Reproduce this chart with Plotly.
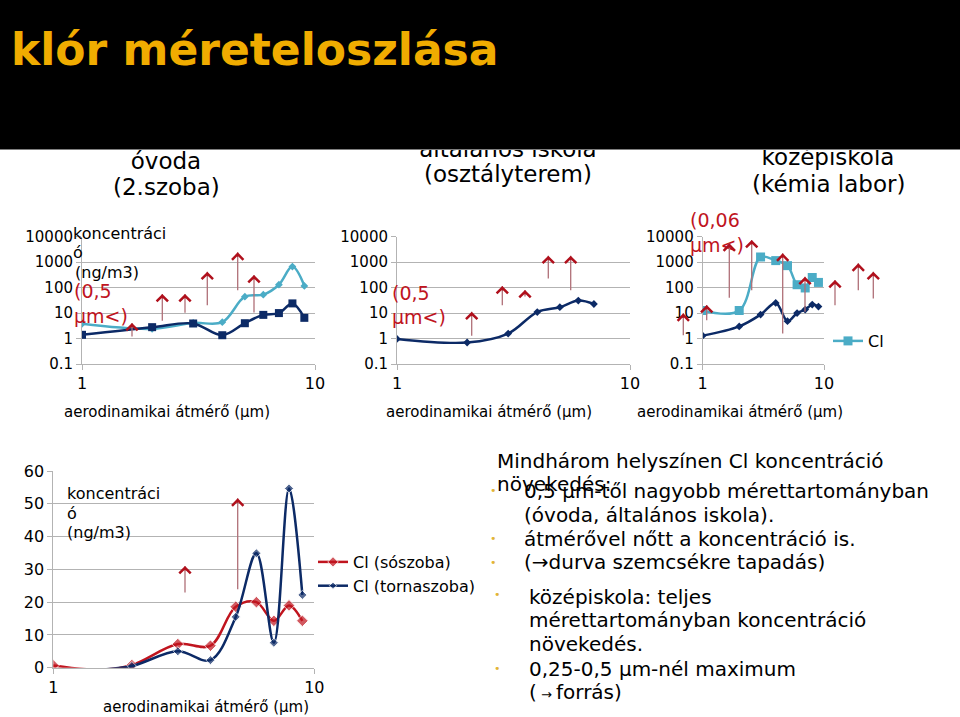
import plotly.graph_objects as go

W, H = 960, 717

# ---------------- data ----------------
size_um = [1, 2, 3, 4, 5, 6, 7, 8, 9]
ovoda_navy = [1.4, 2.8, 3.9, 1.35, 4.0, 8.5, 10, 24, 6.5]
ovoda_light = [3.8, 2.4, 4.1, 4.4, 44, 53, 130, 670, 117]

iskola_x = [1, 2, 3, 4, 5, 6, 7]
iskola_navy = [0.97, 0.7, 1.57, 11, 17, 31, 22.7]

kozep_light = [12.5, 12.5, 1600, 1150, 730, 130, 97, 250, 160]
kozep_navy = [1.3, 3.0, 8.7, 25, 4.8, 10, 13.7, 21.5, 18]

bottom_x = [1, 1.5, 2, 3, 4, 5, 6, 7, 8, 9]
soszoba = [0.7, -0.6, 0.8, 7.2, 6.7, 18.6, 20.0, 14.3, 19.0, 14.3]
tornaszoba = [None, -0.6, 0.5, 5.0, 2.3, 15.5, 34.9, 7.6, 54.7, 22.2]

log_ticks = [0.1, 1, 10, 100, 1000, 10000]
log_tick_text = ["0.1", "1", "10", "100", "1000", "10000"]
lin_ticks = [0, 10, 20, 30, 40, 50, 60]
x_ticks = [1, 10]
x_tick_text = ["1", "10"]

# ---------------- style ----------------
FONT = "DejaVu Sans"
NAVY = "#0C2A66"
LIGHT = "#4BACC6"
RED = "#C0141E"
GRID = "#B3B3B3"
ARROW_HEAD = "#B0101C"
ARROW_SHAFT = "#B07078"
GOLD = "#F0AC00"


def dx(a, b):
    return [a / W, b / W]


def dy(top, bottom):
    return [1 - bottom / H, 1 - top / H]


# hide the markers of the sub-zero point (it lies below the axis in the original)
bottom_marker_red = [9 if v is not None and v >= 0 else 0 for v in soszoba]
bottom_marker_navy = [7 if v is not None and v >= 0 else 0 for v in tornaszoba]

fig = go.Figure()

# chart 1: óvoda
fig.add_trace(go.Scatter(x=size_um, y=ovoda_light, mode="lines+markers", line=dict(color=LIGHT, width=2.5, shape="spline"),
                         marker=dict(symbol="diamond", size=6, color=LIGHT), xaxis="x", yaxis="y", showlegend=False))
fig.add_trace(go.Scatter(x=size_um, y=ovoda_navy, mode="lines+markers", line=dict(color=NAVY, width=2.5, shape="spline"),
                         marker=dict(symbol="square", size=8, color=NAVY), xaxis="x", yaxis="y", showlegend=False))
# chart 2: általános iskola
fig.add_trace(go.Scatter(x=iskola_x, y=iskola_navy, mode="lines+markers", line=dict(color=NAVY, width=2.5, shape="spline"),
                         marker=dict(symbol="diamond", size=6, color=NAVY), xaxis="x2", yaxis="y2", showlegend=False))
# chart 3: középiskola
fig.add_trace(go.Scatter(x=size_um, y=kozep_light, mode="lines+markers", line=dict(color=LIGHT, width=2.5, shape="spline"),
                         marker=dict(symbol="square", size=9, color=LIGHT), xaxis="x3", yaxis="y3", name="Cl",
                         legend="legend2", showlegend=True))
fig.add_trace(go.Scatter(x=size_um, y=kozep_navy, mode="lines+markers", line=dict(color=NAVY, width=2.5, shape="spline"),
                         marker=dict(symbol="diamond", size=6, color=NAVY), xaxis="x3", yaxis="y3", showlegend=False))
# chart 4: bottom
fig.add_trace(go.Scatter(x=bottom_x, y=soszoba, mode="lines+markers", line=dict(color=RED, width=2.5, shape="spline"),
                         marker=dict(symbol="diamond", size=bottom_marker_red, color=RED), xaxis="x4", yaxis="y4",
                         name="Cl (sószoba)", legend="legend", connectgaps=False))
fig.add_trace(go.Scatter(x=bottom_x, y=tornaszoba, mode="lines+markers", line=dict(color=NAVY, width=2.5, shape="spline"),
                         marker=dict(symbol="diamond", size=bottom_marker_navy, color=NAVY), xaxis="x4", yaxis="y4",
                         name="Cl (tornaszoba)", legend="legend", connectgaps=False))

xcommon = dict(type="log", range=[0, 1], tickvals=x_ticks, ticktext=x_tick_text, showgrid=False, showline=True,
               linecolor=GRID, ticks="outside", ticklen=5, tickcolor=GRID, tickfont=dict(size=16, color="black"),
               zeroline=False, fixedrange=True, automargin=False)
ylog = dict(type="log", range=[-1, 4], tickvals=log_ticks, ticktext=log_tick_text, showgrid=True, gridcolor=GRID,
            showline=True, linecolor=GRID, ticks="outside", ticklen=5, tickcolor=GRID,
            tickfont=dict(size=15, color="black"), zeroline=False, fixedrange=True, automargin=False)

top_dom = dy(236.7, 364)
fig.update_layout(
    xaxis=dict(domain=dx(82, 315), anchor="y", **xcommon),
    yaxis=dict(domain=top_dom, anchor="x", **ylog),
    xaxis2=dict(domain=dx(397, 630), anchor="y2", **xcommon),
    yaxis2=dict(domain=top_dom, anchor="x2", **ylog),
    xaxis3=dict(domain=dx(702.7, 824), anchor="y3", **xcommon),
    yaxis3=dict(domain=top_dom, anchor="x3", **ylog),
    xaxis4=dict(domain=dx(53.3, 314.3), anchor="y4", **xcommon),
    yaxis4=dict(domain=dy(471, 667.7), anchor="x4", range=[0, 60], tickvals=lin_ticks, showgrid=True,
                gridcolor=GRID, showline=True, linecolor=GRID, ticks="outside", ticklen=5, tickcolor=GRID,
                tickfont=dict(size=16, color="black"), zeroline=False, fixedrange=True, automargin=False),
)

ann = []
shapes = []


def text(t, x, y, size, color="black", xanchor="left"):
    ann.append(dict(text=t, x=x / W, y=1 - y / H, xref="paper", yref="paper", xanchor=xanchor, yanchor="middle",
                    showarrow=False, font=dict(family=FONT, size=size, color=color)))


def shape_text(t, cx, cy, size):
    # text drawn in the shape layer so that the header band can cover it
    shapes.append(dict(type="rect", xref="paper", yref="paper", x0=(cx - 120) / W, x1=(cx + 120) / W,
                       y0=1 - (cy + 15) / H, y1=1 - (cy - 15) / H, line=dict(width=0),
                       fillcolor="rgba(0,0,0,0)", layer="above",
                       label=dict(text=t, font=dict(family=FONT, size=size, color="black"),
                                  textposition="middle center")))


# chart titles (first lines partly hidden by the header band)
shape_text("óvoda", 166, 159, 23)
shape_text("általános iskola", 508, 147, 23)
shape_text("középiskola", 828, 155, 23)
text("(2.szoba)", 166, 187, 23, xanchor="center")
text("(osztályterem)", 508, 174, 23, xanchor="center")
text("(kémia labor)", 828, 184, 23, xanchor="center")

# header band
shapes.append(dict(type="rect", xref="paper", yref="paper", x0=-0.01, x1=1.01, y0=1 - 149.5 / H, y1=1.01,
                   fillcolor="black", line=dict(color="#7F7F7F", width=1), layer="above"))
text("<b>klór méreteloszlása</b>", 9, 50, 44, color=GOLD)

# axis titles
for cx, cy in [(167, 412), (489, 412), (740, 412), (206, 707)]:
    text("aerodinamikai átmérő (µm)", cx, cy, 15, xanchor="center")

# y labels inside charts
text("koncentráci", 71, 233, 16)
text("ó", 71, 253, 16)
text("(ng/m3)", 73, 272, 16)
text("koncentráci", 65, 493, 16)
text("ó", 65, 513, 16)
text("(ng/m3)", 65, 532, 16)

# red size labels
text("(0,5", 72, 291, 19, color=RED)
text("µm<)", 72, 316, 19, color=RED)
text("(0,5", 390, 293, 19, color=RED)
text("µm<)", 390, 317, 19, color=RED)
text("(0,06", 688, 220, 19, color=RED)
text("µm<)", 688, 245, 19, color=RED)

# right text block
block = [
    ("Mindhárom helyszínen Cl koncentráció", 495, 461),
    ("növekedés:", 495, 484),
    ("0,5 µm-től nagyobb mérettartományban", 522, 491),
    ("(óvoda, általános iskola).", 522, 515),
    ("átmérővel nőtt a koncentráció is.", 522, 539),
    ("(→durva szemcsékre tapadás)", 522, 562),
    ("középiskola: teljes", 527, 597),
    ("mérettartományban koncentráció", 527, 620),
    ("növekedés.", 527, 644),
    ("0,25-0,5 µm-nél maximum", 527, 669),
    ("(<span style='font-size:13px'> → </span>forrás)", 527, 692),
]
for t, x, y in block:
    text(t, x, y, 20)
for x, y in [(493, 490), (493, 538), (493, 562), (497, 594), (497, 668)]:
    text("•", x, y, 11, color="#E2B435", xanchor="center")

# hand-drawn upward arrows (slide decoration, pixel positions: x, tail y, tip y)
arrows = [
    (132, 338, 323), (162.3, 322.3, 294), (185, 314.3, 294), (207.3, 306.7, 271.7), (237.7, 291.7, 252.3),
    (254, 314, 275),
    (471.7, 337.3, 311.7), (502.3, 306.7, 286), (525, 298, 290), (548.3, 280, 255.7), (570.7, 291.7, 255.7),
    (683.3, 336.7, 313.3), (706.7, 321.7, 305), (729.3, 299.3, 243.3), (751.7, 291.7, 240), (782.7, 335, 253.3),
    (805, 313.3, 276.7), (835, 306.7, 280), (858.3, 291.7, 263.3), (873.3, 300, 271.7),
    (185, 594, 566), (237.7, 590.7, 498.3),
]
for x, y0, y1 in arrows:
    ann.append(dict(text="", x=x / W, y=1 - y1 / H, xref="paper", yref="paper", ax=0, ay=(y0 - y1),
                    showarrow=True, arrowhead=0, arrowwidth=1.3, arrowcolor=ARROW_SHAFT, font=dict(size=1)))
    ann.append(dict(text="", x=x / W, y=1 - y1 / H, xref="paper", yref="paper", ax=0, ay=6,
                    showarrow=True, arrowhead=4, arrowsize=2.2, arrowwidth=1, arrowcolor=ARROW_HEAD,
                    font=dict(size=1)))

fig.update_layout(
    width=W, height=H, margin=dict(l=0, r=0, t=0, b=0, autoexpand=False),
    paper_bgcolor="white", plot_bgcolor="rgba(0,0,0,0)",
    font=dict(family=FONT, color="black"),
    annotations=ann, shapes=shapes,
    legend=dict(x=313 / W, y=1 - 545 / H, xanchor="left", yanchor="top", bgcolor="rgba(0,0,0,0)",
                font=dict(size=16, color="black"), tracegroupgap=0),
    legend2=dict(x=828 / W, y=1 - 324 / H, xanchor="left", yanchor="top", bgcolor="rgba(0,0,0,0)",
                 font=dict(size=16, color="black")),
)

# place the figure flush with the page corner (no default body margin), no mode bar
fig.write_html("out.html", config={"displayModeBar": False},
               post_script="document.body.style.margin='0';document.body.style.overflow='hidden';")
